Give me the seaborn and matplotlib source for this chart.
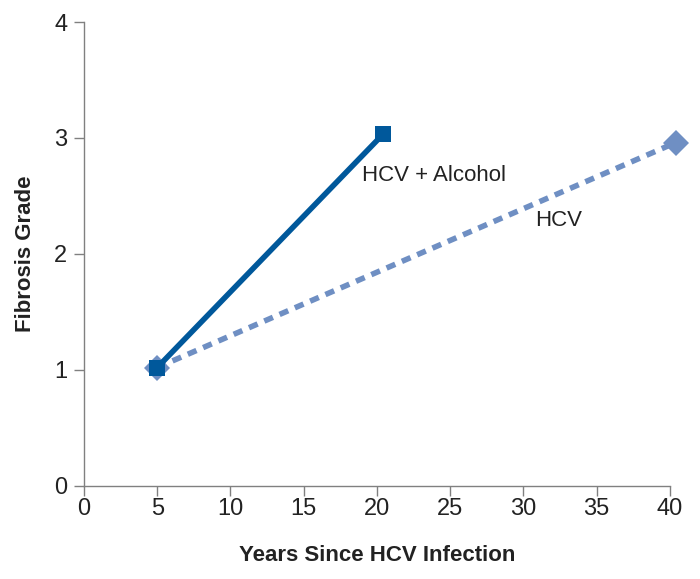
import matplotlib
matplotlib.use("Agg")
import matplotlib.pyplot as plt
import seaborn as sns
import pandas as pd

# Data
years_alcohol = [5, 20.4]
grade_alcohol = [1.02, 3.03]
years_hcv = [5, 40.4]
grade_hcv = [1.02, 2.96]

x_ticks = [0, 5, 10, 15, 20, 25, 30, 35, 40]
y_ticks = [0, 1, 2, 3, 4]

dark_blue = "#00589B"
light_blue = "#6F8FC3"

sns.set_style("white")
plt.rcParams["font.family"] = ["Liberation Sans", "DejaVu Sans"]

df_alc = pd.DataFrame({"years": years_alcohol, "grade": grade_alcohol})
df_hcv = pd.DataFrame({"years": years_hcv, "grade": grade_hcv})

fig = plt.figure(figsize=(7, 5.79), dpi=100)
ax = fig.add_axes([0.12, 0.161, 0.837, 0.801])

# HCV line (dotted, diamond markers)
sns.lineplot(data=df_hcv, x="years", y="grade", ax=ax, color=light_blue,
             linewidth=4, linestyle=(0, (1.7, 1.3)), marker="D", markersize=13,
             markeredgewidth=0, clip_on=False, zorder=2)
# HCV + Alcohol line (solid, square markers)
sns.lineplot(data=df_alc, x="years", y="grade", ax=ax, color=dark_blue,
             linewidth=4, marker="s", markersize=11, markeredgewidth=0,
             clip_on=False, zorder=3)

ax.set_xlim(0, 40)
ax.set_ylim(0, 4)
ax.set_xticks(x_ticks)
ax.set_yticks(y_ticks)

for side in ["top", "right"]:
    ax.spines[side].set_visible(False)
for side in ["left", "bottom"]:
    ax.spines[side].set_color("#808080")
    ax.spines[side].set_linewidth(1)

ax.tick_params(axis="both", which="major", direction="out", length=7, width=1,
               color="#808080", labelsize=17, labelcolor="#222222",
               bottom=True, left=True)
ax.tick_params(axis="x", pad=2)
ax.tick_params(axis="y", pad=5)

ax.text(19.0, 2.68, "HCV + Alcohol", fontsize=16, color="#222222",
        ha="left", va="center")
ax.text(30.8, 2.29, "HCV", fontsize=16, color="#222222",
        ha="left", va="center")

ax.set_xlabel("Years Since HCV Infection", fontsize=16, fontweight="bold",
              labelpad=18, color="#222222")
ax.set_ylabel("Fibrosis Grade", fontsize=16, fontweight="bold",
              labelpad=13, color="#222222")

fig.savefig("out.png", dpi=100)
